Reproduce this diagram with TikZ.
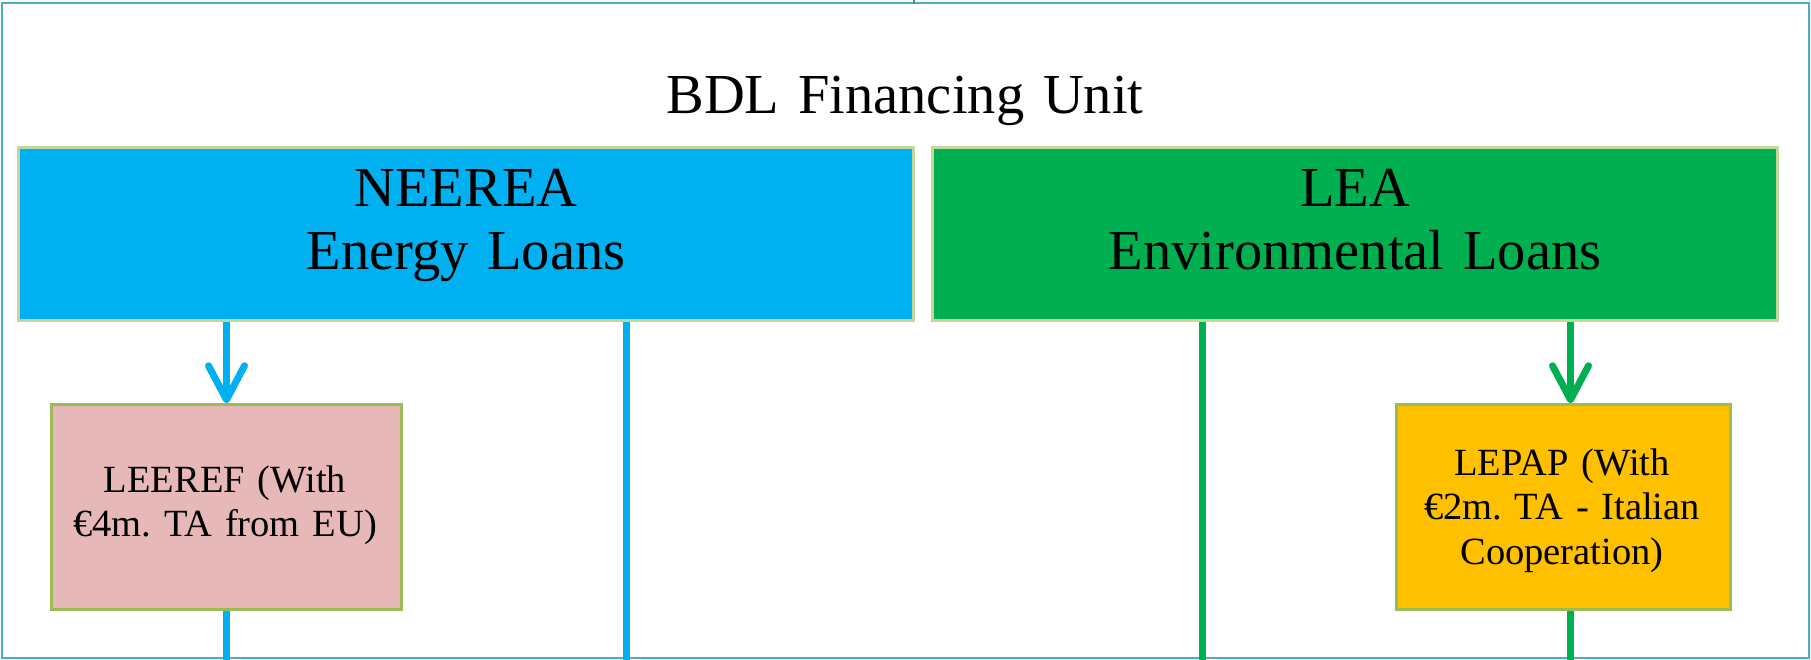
\documentclass[tikz,border=0pt]{standalone}
\usepackage{fontspec}
\setmainfont{Liberation Serif}
\frenchspacing
\usetikzlibrary{arrows.meta}
\definecolor{framec}{HTML}{4BACC6}
\definecolor{hdrborder}{HTML}{C4D79B}
\definecolor{bluef}{HTML}{00B0F0}
\definecolor{greenf}{HTML}{00B050}
\definecolor{pinkf}{HTML}{E6B9B8}
\definecolor{orangef}{HTML}{FFC000}
\definecolor{smallborder}{HTML}{9BBB59}
\definecolor{tickc}{HTML}{4F81BD}
\tikzset{
  hdrbox/.style={draw=hdrborder, line width=3pt, inner sep=0pt, minimum width=#1, minimum height=173pt},
  subbox/.style={draw=smallborder, line width=2.5pt, inner sep=0pt, minimum width=#1, minimum height=205pt},
  bigtext/.style={font=\fontsize{56.5}{63}\selectfont\frenchspacing, text width=700pt, align=center, anchor=base, inner sep=0pt},
  smalltext/.style={font=\fontsize{38.5}{44.5}\selectfont\frenchspacing, text width=330pt, align=center, anchor=base, inner sep=0pt},
  conn/.style={line width=7pt},
  chev/.style={-{Straight Barb[length=34pt, width=36pt, round]}}
}
\begin{document}
\begin{tikzpicture}[x=1pt, y=-1pt]
\useasboundingbox (0,0) rectangle (1811,660);
% outer frame
\draw[framec, line width=2.2pt] (2,3) rectangle (1809,658);
\draw[tickc, line width=1.5pt] (914,0) -- (914,4);
% coordinates
\coordinate (bot) at (0,660);
\coordinate (xa) at (1570.5,0);
\coordinate (xb) at (626,0);
\coordinate (xc) at (1202,0);
% boxes
\node[hdrbox=895pt, fill=bluef] (neerea) at (466,234) {};
\node[hdrbox=845pt, fill=greenf] (lea) at (1355,234) {};
\node[subbox=350pt, fill=pinkf] (leeref) at (226.5,507) {};
\node[subbox=334pt, fill=orangef] (lepap) at (1563.5,507) {};
% connectors
\draw[conn, bluef, chev] (neerea.south -| leeref.north) -- (leeref.north);
\draw[conn, bluef] (leeref.south) -- (leeref.south |- bot);
\draw[conn, bluef] (neerea.south -| xb) -- (bot -| xb);
\draw[conn, greenf] (lea.south -| xc) -- (bot -| xc);
\draw[conn, greenf, chev] (lea.south -| xa) -- (lepap.north -| xa);
\draw[conn, greenf] (lepap.south -| xa) -- (bot -| xa);
% texts
\node[bigtext] (title) at (905,114) {BDL Financing Unit};
\node[bigtext] (neereat) at (466,207) {NEEREA\\Energy Loans};
\node[bigtext] (leat) at (1355,207) {LEA\\Environmental Loans};
\node[smalltext] (leereft) at (225,492) {LEEREF (With\\€4m. TA from EU)};
\node[smalltext] (lepapt) at (1562,475) {LEPAP (With\\€2m. TA - Italian\\Cooperation)};
\end{tikzpicture}
\end{document}
